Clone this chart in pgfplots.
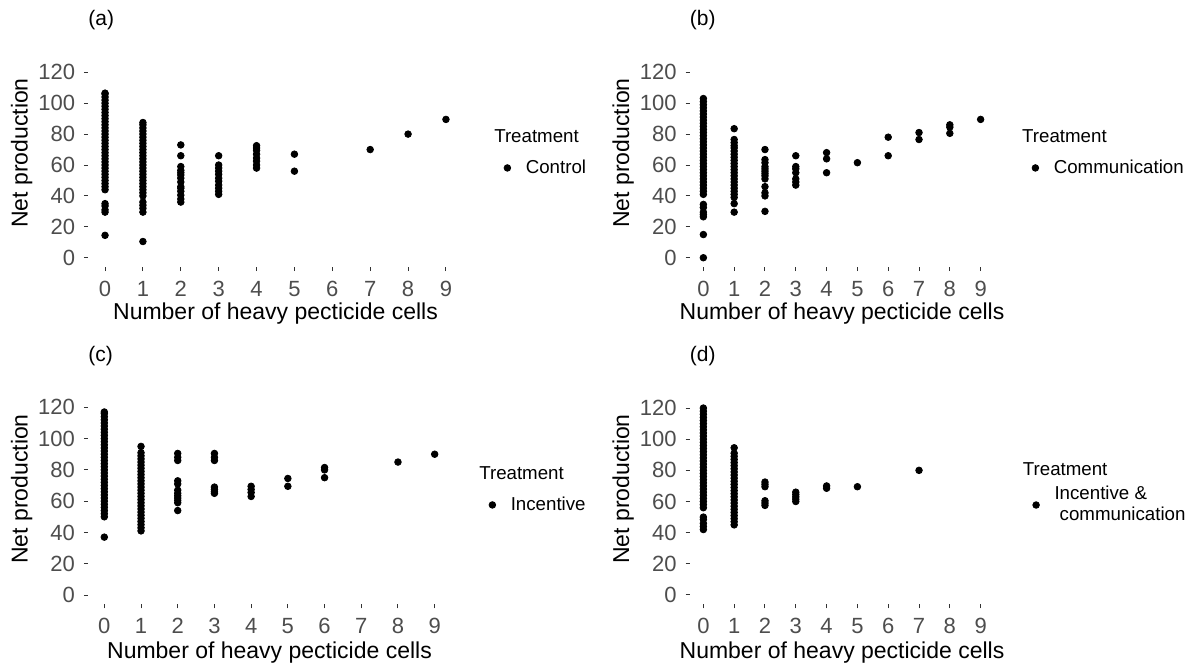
\documentclass[border=0pt]{standalone}
\usepackage{fontspec}
\setmainfont{Liberation Sans}
\usepackage{pgfplots}
\pgfplotsset{compat=1.18}
\definecolor{labgray}{HTML}{4D4D4D}
\definecolor{tickc}{HTML}{333333}
\pgfplotsset{
  panel/.style={
    scale only axis, clip=false,
    xmin=-0.45, xmax=9.45, ymin=-6, ymax=126,
    xtick={0,...,9}, ytick={0,20,...,120},
    axis x line*=bottom, axis y line*=left,
    axis line style={draw=none},
    tick align=outside, major tick length=2pt,
    major tick style={draw=tickc, line width=0.5pt},
    /pgf/number format/assume math mode=true,
    xticklabel style={font=\fontsize{11}{13}\selectfont, text=labgray, anchor=center, inner sep=0pt, yshift=-8.8pt},
    yticklabel style={font=\fontsize{11}{13}\selectfont, text=labgray, anchor=east, inner sep=0pt, xshift=-4.25pt},
    legend style={draw=none, fill=none, inner sep=0pt, outer sep=0pt,
      font=\fontsize{9.35}{10.3}\selectfont, row sep=7pt, column sep=4.5pt,
      nodes={inner sep=0pt}, anchor=west, cells={align=left}},
    legend cell align=left,
  },
  dots/.style={only marks, mark=*, mark size=1.65pt, black,
    legend image code/.code={\path (0pt,0pt) (9pt,0pt); \fill[black] (4.5pt,0pt) circle (1.65pt);}},
}
\begin{document}
\begin{tikzpicture}
\useasboundingbox (0,0) rectangle (597.5pt,-332.5pt);
% ---------------- (a) Control
\begin{axis}[panel, at={(44pt,-133.5pt)}, anchor=south west, width=187.5pt, height=102pt,
  legend style={at={(axis description cs:1.0933,0.5588)}}]
\addlegendimage{empty legend}\addlegendentry{\hspace*{-15.75pt}Treatment}
\addplot[dots] coordinates {
(0,14.5)(0,29.5)(0,31)(0,33.5)(0,35)
(0,44)(0,46)(0,48)(0,50)(0,52)(0,54)(0,56)(0,58)(0,60)(0,62)(0,64)(0,66)(0,68)(0,70)(0,72)(0,74)(0,76)(0,78)(0,80)(0,82)(0,84)(0,86)(0,88)(0,90)(0,92)(0,94)(0,96)(0,98)(0,100)(0,102)(0,104)(0,106)(0,106.5)
(1,10.5)(1,29.5)(1,32)(1,34)(1,36)
(1,40)(1,42)(1,44)(1,46)(1,48)(1,50)(1,52)(1,54)(1,56)(1,58)(1,60)(1,62)(1,64)(1,66)(1,68)(1,70)(1,72)(1,74)(1,76)(1,78)(1,80)(1,82)(1,84)(1,86)(1,87.5)
(2,36)(2,38)(2,40.5)(2,43)(2,45)(2,46)(2,49)(2,51.5)(2,53.5)(2,55)(2,56.5)(2,59)(2,66)(2,73)
(3,41)(3,43)(3,45)(3,47)(3,49.5)(3,51.5)(3,54)(3,56)(3,58)(3,60)(3,66)
(4,58)(4,60)(4,62.5)(4,64.5)(4,67)(4,69.5)(4,71)(4,72.5)
(5,56)(5,67)
(7,70)(8,80)(9,89.5)
};
\addlegendentry{Control}
\end{axis}
\node[font=\fontsize{10.5}{12}\selectfont, anchor=west, inner sep=0pt] at (44pt,-10pt) {(a)};
\node[font=\fontsize{11.5}{13}\selectfont, rotate=90, inner sep=0pt] at (10.85pt,-76.5pt) {Net production};
\node[font=\fontsize{11.5}{13}\selectfont, inner sep=0pt] at (137.75pt,-157pt) {Number of heavy pecticide cells};
% ---------------- (b) Communication
\begin{axis}[panel, at={(344.75pt,-133.5pt)}, anchor=south west, width=152.5pt, height=102pt,
  legend style={at={(axis description cs:1.1033,0.5588)}}]
\addlegendimage{empty legend}\addlegendentry{\hspace*{-15.8pt}Treatment}
\addplot[dots] coordinates {
(0,0)(0,15)(0,26.5)(0,28)(0,29.5)(0,32.5)(0,34.5)
(0,41)(0,43)(0,45)(0,47)(0,49)(0,51)(0,53)(0,55)(0,57)(0,59)(0,61)(0,63)(0,65)(0,67)(0,69)(0,71)(0,73)(0,75)(0,77)(0,79)(0,81)(0,83)(0,85)(0,87)(0,89)(0,91)(0,93)(0,95)(0,97)(0,99)(0,101)(0,103)
(1,29.5)(1,35)
(1,39)(1,41)(1,43)(1,45)(1,47)(1,49)(1,51)(1,53)(1,55)(1,57)(1,59)(1,61)(1,63)(1,65)(1,67)(1,69)(1,71)(1,72.5)(1,74.5)(1,76.5)(1,83.5)
(2,30)(2,40)(2,42)(2,46)(2,51)(2,53)(2,54.5)(2,56)(2,57.5)(2,59)(2,61.5)(2,63.5)(2,70)
(3,47)(3,49)(3,51)(3,55)(3,57.5)(3,59)(3,66)
(4,55)(4,64)(4,68)
(5,61.5)
(6,66)(6,78)
(7,76.5)(7,81)
(8,80.5)(8,84.5)(8,86)
(9,89.5)
};
\addlegendentry{Communication}
\end{axis}
\node[font=\fontsize{10.5}{12}\selectfont, anchor=west, inner sep=0pt] at (344.75pt,-10pt) {(b)};
\node[font=\fontsize{11.5}{13}\selectfont, rotate=90, inner sep=0pt] at (311.6pt,-76.5pt) {Net production};
\node[font=\fontsize{11.5}{13}\selectfont, inner sep=0pt] at (421pt,-157pt) {Number of heavy pecticide cells};
% ---------------- (c) Incentive
\begin{axis}[panel, at={(43.9pt,-302.2pt)}, anchor=south west, width=181.7pt, height=103.25pt,
  legend style={at={(axis description cs:1.0875,0.554)}}]
\addlegendimage{empty legend}\addlegendentry{\hspace*{-15.75pt}Treatment}
\addplot[dots] coordinates {
(0,37)
(0,50)(0,52)(0,54)(0,56)(0,58)(0,60)(0,62)(0,64)(0,66)(0,68)(0,70)(0,72)(0,74)(0,76)(0,78)(0,80)(0,82)(0,84)(0,86)(0,88)(0,90)(0,92)(0,94)(0,96)(0,98)(0,100)(0,102)(0,104)(0,106)(0,108)(0,110)(0,112)(0,114)(0,116)(0,117)
(1,41)(1,43)(1,45)(1,47)(1,49)(1,51)(1,53)(1,55)(1,57)(1,59)(1,61)(1,63)(1,65)(1,67)(1,69)(1,71)(1,73)(1,75)(1,77)(1,79)(1,81)(1,83)(1,85)(1,87)(1,89)(1,91)(1,95)
(2,54)(2,59)(2,60.5)(2,62)(2,63.5)(2,65)(2,67)(2,71)(2,73)(2,86)(2,88)(2,90.5)
(3,65)(3,66)(3,67.5)(3,69)(3,86)(3,88)(3,90.5)
(4,63)(4,65.5)(4,67.5)(4,69.5)
(5,69.5)(5,74.5)
(6,75)(6,80)(6,81.5)
(8,85)
(9,90)
};
\addlegendentry{Incentive}
\end{axis}
\node[font=\fontsize{10.5}{12}\selectfont, anchor=west, inner sep=0pt] at (44pt,-178pt) {(c)};
\node[font=\fontsize{11.5}{13}\selectfont, rotate=90, inner sep=0pt] at (10.85pt,-244.5pt) {Net production};
\node[font=\fontsize{11.5}{13}\selectfont, inner sep=0pt] at (134.75pt,-326.2pt) {Number of heavy pecticide cells};
% ---------------- (d) Incentive & communication
\begin{axis}[panel, at={(344.75pt,-302.15pt)}, anchor=south west, width=152.5pt, height=102.8pt,
  legend style={at={(axis description cs:1.1056,0.541)}, row sep=4pt}]
\addlegendimage{empty legend}\addlegendentry{\hspace*{-15.8pt}Treatment}
\addplot[dots] coordinates {
(0,42)(0,44)(0,46)(0,48.5)(0,50)
(0,56)(0,58)(0,60)(0,62)(0,64)(0,66)(0,68)(0,70)(0,72)(0,74)(0,76)(0,78)(0,80)(0,82)(0,84)(0,86)(0,88)(0,90)(0,92)(0,94)(0,96)(0,98)(0,100)(0,102)(0,104)(0,106)(0,108)(0,110)(0,112)(0,114)(0,116)(0,118)(0,120)
(1,45)(1,47)(1,49)(1,51)(1,53)(1,55)(1,57)(1,59)(1,61)(1,63)(1,65)(1,67)(1,69)(1,71)(1,73)(1,75)(1,77)(1,79)(1,81)(1,83)(1,85)(1,87)(1,89)(1,91)(1,94.5)
(2,57.5)(2,59)(2,60.5)(2,69.5)(2,71)(2,72.5)
(3,60)(3,61.5)(3,63)(3,64.5)(3,66)
(4,68.5)(4,70)
(5,69.5)
(7,80)
};
\addlegendentry{Incentive \&\\\ communication}
\end{axis}
\node[font=\fontsize{10.5}{12}\selectfont, anchor=west, inner sep=0pt] at (344.75pt,-178pt) {(d)};
\node[font=\fontsize{11.5}{13}\selectfont, rotate=90, inner sep=0pt] at (311.6pt,-244.5pt) {Net production};
\node[font=\fontsize{11.5}{13}\selectfont, inner sep=0pt] at (421pt,-326.2pt) {Number of heavy pecticide cells};
\end{tikzpicture}
\end{document}
